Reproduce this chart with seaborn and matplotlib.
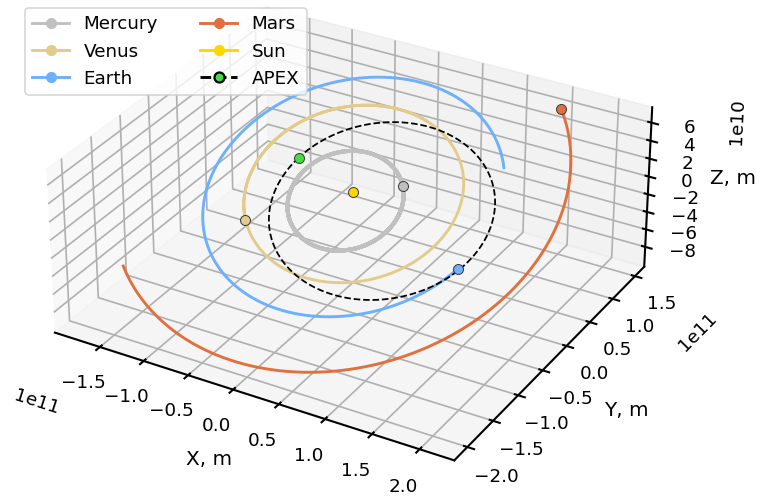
import numpy as np
import matplotlib
matplotlib.use("Agg")
import matplotlib.pyplot as plt
from matplotlib.lines import Line2D
import seaborn as sns

sns.set_context("talk")

# Heliocentric osculating elements (ecliptic frame)
planets = ["Mercury", "Venus", "Earth", "Mars"]
planet_colors = ["#c0c0c0", "#e2cb8b", "#6cb0ff", "#e2703f"]
semi_major_m = [5.791e10, 1.0821e11, 1.4960e11, 2.2794e11]
eccentricity = [0.2056, 0.0068, 0.0167, 0.0934]
inclination_deg = [7.00, 3.39, 0.00, 1.85]
asc_node_deg = [48.3, 76.7, 0.0, 49.6]
perihelion_lon_deg = [77.5, 131.6, 102.9, 336.1]
# true longitude at the first and last sample of each track
track_start_deg = [-1261.0, -285.0, 30.0, 222.0]
track_end_deg = [29.0, 219.0, 340.0, 407.0]

# APEX spacecraft orbit
apex_a_m = 1.145e11
apex_e = 0.336
apex_perihelion_lon_deg = 164.0
apex_start_deg = 164.0
apex_end_deg = 524.0

sun_xyz = [0.0, 0.0, 0.0]
sun_color = "#ffd700"
apex_color = "#44dd44"
obliquity_deg = 23.44

x_lim = (-2.02e11, 2.36e11)
y_lim = (-2.25e11, 1.71e11)
z_lim = (-1.03e11, 0.77e11)
x_ticks = [-1.5e11, -1.0e11, -0.5e11, 0.0, 0.5e11, 1.0e11, 1.5e11, 2.0e11]
y_ticks = [-2.0e11, -1.5e11, -1.0e11, -0.5e11, 0.0, 0.5e11, 1.0e11, 1.5e11]
z_ticks = [-8e10, -6e10, -4e10, -2e10, 0.0, 2e10, 4e10, 6e10]


def track(a, e, inc, node, varpi, lon0, lon1, n=1500):
    """Equatorial x, y, z of a Keplerian orbit between two true longitudes."""
    L = np.radians(np.linspace(lon0, lon1, n))
    i, Om, w = np.radians(inc), np.radians(node), np.radians(varpi)
    r = a * (1 - e ** 2) / (1 + e * np.cos(L - w))
    u = L - Om
    xe = r * (np.cos(Om) * np.cos(u) - np.sin(Om) * np.sin(u) * np.cos(i))
    ye = r * (np.sin(Om) * np.cos(u) + np.cos(Om) * np.sin(u) * np.cos(i))
    ze = r * np.sin(u) * np.sin(i)
    eps = np.radians(obliquity_deg)
    return xe, ye * np.cos(eps) - ze * np.sin(eps), ye * np.sin(eps) + ze * np.cos(eps)


fig = plt.figure(figsize=(9.5, 6.2125), dpi=80)
side = 620.0
cx, cy = 346.0, 228.0
ax = fig.add_axes([(cx - side / 2) / 760, 1 - (cy + side / 2) / 497, side / 760, side / 497],
                  projection="3d")
ax.computed_zorder = False

lw = 2.6
widths = [3.6, lw, lw, lw]
mk = dict(marker="o", ms=9, mec="#3a3a3a", mew=0.9, ls="none", zorder=6)
handles = []
for k, name in enumerate(planets):
    x, y, z = track(semi_major_m[k], eccentricity[k], inclination_deg[k], asc_node_deg[k],
                    perihelion_lon_deg[k], track_start_deg[k], track_end_deg[k])
    ax.plot(x, y, z, color=planet_colors[k], lw=widths[k], zorder=3)
    ax.plot([x[-1]], [y[-1]], [z[-1]], mfc=planet_colors[k], **mk)
    handles.append(Line2D([], [], color=planet_colors[k], lw=lw, marker="o", label=name))

ax.plot([sun_xyz[0]], [sun_xyz[1]], [sun_xyz[2]], mfc=sun_color, **mk)
handles.append(Line2D([], [], color=sun_color, lw=lw, marker="o", label="Sun"))

x, y, z = track(apex_a_m, apex_e, 0.0, 0.0, apex_perihelion_lon_deg, apex_start_deg, apex_end_deg)
ax.plot(x, y, z, color="black", ls="--", lw=1.6, zorder=4)
ax.plot([x[0]], [y[0]], [z[0]], mfc=apex_color, **mk)
handles.append(Line2D([], [], color="black", ls="--", lw=lw, marker="o", mfc=apex_color,
                      mec="black", mew=2.0, label="APEX"))

ax.set_xlim(*x_lim)
ax.set_ylim(*y_lim)
ax.set_zlim(*z_lim)
ax.set_box_aspect((x_lim[1] - x_lim[0], y_lim[1] - y_lim[0], z_lim[1] - z_lim[0]))
ax.set_xticks(x_ticks)
ax.set_yticks(y_ticks)
ax.set_zticks(z_ticks)
ax.tick_params(axis="x", pad=14)
ax.tick_params(axis="y", pad=12)
ax.tick_params(axis="z", pad=11)
ax.set_xlabel("X, m", labelpad=31)
ax.set_ylabel("Y, m", labelpad=31)
ax.set_zlabel("Z, m", labelpad=22)

ax.legend(handles=handles, ncol=2, loc="upper left", bbox_to_anchor=(25 / 760, 1 - 8 / 497),
          bbox_transform=fig.transFigure, borderaxespad=0, columnspacing=2.3)

fig.savefig("out.png", dpi=80)
